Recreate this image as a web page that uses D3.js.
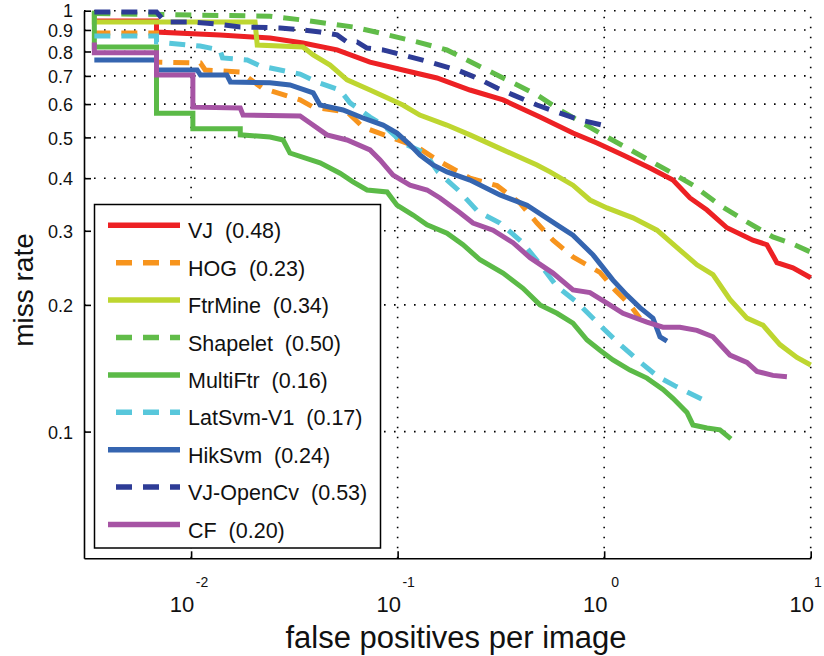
<!DOCTYPE html>
<html>
<head>
<meta charset="utf-8">
<script src="https://cdn.jsdelivr.net/npm/d3@7"></script>
<style>
  html, body { margin: 0; padding: 0; background: #fff; }
  svg { display: block; font-family: "Liberation Sans", Arial, Helvetica, sans-serif; }
</style>
</head>
<body>
<svg id="chart" width="824" height="656"></svg>
<script>
// Detectors, their log-average miss rates and line styles (legend order = draw order)
const methods   = ["VJ", "HOG", "FtrMine", "Shapelet", "MultiFtr", "LatSvm-V1", "HikSvm", "VJ-OpenCv", "CF"];
const avgMiss   = ["0.48", "0.23", "0.34", "0.50", "0.16", "0.17", "0.24", "0.53", "0.20"];
const colors    = ["#ED2124", "#F7941D", "#BED630", "#61BC49", "#5BBA47", "#58C7DB", "#3565B0", "#2E3C96", "#A654A4"];
const dashed    = [false, true, false, true, false, true, false, true, false];

// Axis ticks
const yTicks = [0.1, 0.2, 0.3, 0.4, 0.5, 0.6, 0.7, 0.8, 0.9, 1];
const yTickLabels = ["0.1", "0.2", "0.3", "0.4", "0.5", "0.6", "0.7", "0.8", "0.9", "1"];
const xTicks = [0.01, 0.1, 1, 10];
const xTickExponents = ["-2", "-1", "0", "1"];

// Curves: [false positives per image, miss rate]
const vj = [[0.0034,0.945],[0.0068,0.945],[0.0068,0.89],[0.0138,0.876],[0.0241,0.861],[0.0348,0.838],[0.0509,0.807],
  [0.0735,0.755],[0.106,0.723],[0.155,0.692],[0.224,0.648],[0.324,0.614],[0.489,0.559],[0.706,0.512],[0.923,0.485],
  [1.233,0.454],[1.666,0.423],[2.153,0.396],[2.603,0.359],[3.146,0.336],[3.93,0.305],[5.251,0.285],[6.138,0.278],
  [6.861,0.252],[8.2,0.245],[10,0.232]];
const hog = [[0.0034,0.885],[0.0068,0.885],[0.0068,0.755],[0.0111,0.751],[0.0117,0.723],[0.0173,0.715],[0.0221,0.655],
  [0.0337,0.614],[0.039,0.59],[0.0569,0.575],[0.068,0.529],[0.1241,0.475],[0.1551,0.442],[0.2241,0.4],[0.3028,0.384],
  [0.3913,0.349],[0.4729,0.313],[0.5652,0.285],[0.7063,0.26],[0.9544,0.239],[1.128,0.217],[1.333,0.2],[1.49,0.186]];
const ftrMine = [[0.0034,1.0],[0.0034,0.94],[0.0204,0.94],[0.0209,0.829],[0.0348,0.82],[0.039,0.785],[0.0471,0.743],
  [0.0569,0.685],[0.0735,0.648],[0.106,0.597],[0.128,0.565],[0.173,0.535],[0.224,0.507],[0.324,0.467],[0.473,0.43],
  [0.547,0.414],[0.706,0.385],[0.854,0.355],[1.032,0.34],[1.379,0.322],[1.802,0.301],[2.328,0.27],[2.814,0.249],
  [3.363,0.236],[4.064,0.206],[4.912,0.186],[5.87,0.179],[7.094,0.161],[8.575,0.15],[10,0.144]];
const shapelet = [[0.0034,0.985],[0.0241,0.97],[0.0348,0.95],[0.0608,0.915],[0.0822,0.885],[0.124,0.843],[0.173,0.807],
  [0.242,0.743],[0.324,0.692],[0.473,0.631],[0.611,0.581],[0.987,0.507],[1.289,0.472],[2.014,0.418],[2.691,0.385],
  [3.635,0.345],[4.912,0.315],[6.561,0.29],[7.93,0.281],[10,0.267]];
const multiFtr = [[0.0034,1.0],[0.0034,0.82],[0.0068,0.82],[0.0068,0.571],[0.0102,0.571],[0.0102,0.524],[0.0173,0.524],
  [0.0173,0.507],[0.0241,0.501],[0.0279,0.493],[0.0301,0.459],[0.0421,0.435],[0.0526,0.411],[0.0608,0.392],[0.0711,0.375],
  [0.0889,0.371],[0.0993,0.345],[0.1187,0.327],[0.1388,0.31],[0.1734,0.296],[0.2073,0.278],[0.2505,0.256],[0.3237,0.238],
  [0.4046,0.219],[0.489,0.2],[0.591,0.191],[0.706,0.181],[0.826,0.165],[0.954,0.156],[1.103,0.148],[1.333,0.14],
  [1.611,0.134],[1.926,0.126],[2.153,0.12],[2.517,0.111],[2.691,0.1037],[3.146,0.102],[3.635,0.101],[4.109,0.0961]];
const latSvm = [[0.0034,0.871],[0.0068,0.871],[0.0068,0.843],[0.01105,0.824],[0.0138,0.807],[0.0142,0.772],[0.0187,0.764],
  [0.0216,0.739],[0.027,0.723],[0.0337,0.707],[0.0407,0.677],[0.0526,0.648],[0.0588,0.604],[0.0735,0.559],[0.085,0.535],
  [0.106,0.485],[0.1357,0.459],[0.1568,0.414],[0.1961,0.375],[0.2451,0.333],[0.313,0.313],[0.4,0.282],[0.489,0.25],
  [0.591,0.221],[0.7385,0.203],[0.976,0.177],[1.193,0.161],[1.49,0.1464],[1.822,0.135],[2.202,0.1284],[3.008,0.119]];
const hikSvm = [[0.0034,0.764],[0.0068,0.764],[0.0068,0.723],[0.0107,0.723],[0.0111,0.703],[0.0149,0.703],[0.0155,0.677],
  [0.0241,0.674],[0.0301,0.666],[0.039,0.638],[0.0421,0.597],[0.0544,0.581],[0.068,0.556],[0.085,0.535],[0.0993,0.512],
  [0.1148,0.48],[0.1283,0.454],[0.1484,0.43],[0.1734,0.414],[0.2241,0.396],[0.313,0.365],[0.423,0.345],[0.591,0.31],
  [0.706,0.293],[0.883,0.263],[1.103,0.229],[1.289,0.211],[1.49,0.197],[1.723,0.186],[1.863,0.168],[2.014,0.164]];
const vjOpenCv = [[0.0034,0.993],[0.0068,0.993],[0.00748,0.94],[0.0102,0.94],[0.01307,0.93],[0.0173,0.915],[0.027,0.91],
  [0.0348,0.9],[0.0421,0.89],[0.0509,0.876],[0.0569,0.843],[0.0636,0.843],[0.0711,0.815],[0.085,0.807],[0.106,0.785],
  [0.1435,0.755],[0.1939,0.723],[0.2423,0.692],[0.3028,0.655],[0.3619,0.631],[0.4729,0.597],[0.611,0.571],[0.7636,0.55],
  [0.976,0.535]];
const cf = [[0.0034,0.84],[0.0034,0.794],[0.0068,0.794],[0.0068,0.703],[0.0102,0.703],[0.0102,0.59],[0.0173,0.587],
  [0.01785,0.565],[0.0337,0.562],[0.0377,0.541],[0.0455,0.507],[0.0569,0.493],[0.0735,0.467],[0.0822,0.442],[0.095,0.407],
  [0.1148,0.385],[0.1388,0.375],[0.1604,0.359],[0.2004,0.331],[0.2317,0.313],[0.2896,0.301],[0.3619,0.281],[0.4376,0.259],
  [0.5652,0.238],[0.7063,0.217],[0.8536,0.214],[1.032,0.202],[1.233,0.191],[1.611,0.182],[1.926,0.177],[2.328,0.177],
  [2.814,0.174],[3.363,0.168],[4.064,0.152],[4.912,0.146],[5.491,0.139],[6.561,0.136],[7.67,0.135]];

const curves = [vj, hog, ftrMine, shapelet, multiFtr, latSvm, hikSvm, vjOpenCv, cf];

const svg = d3.select("#chart");
const plot = { left: 84, right: 810.7, top: 10.7, bottom: 558.3 };

const x = d3.scaleLog().domain([0.00303, 10]).range([plot.left, plot.right]);
const y = d3.scaleLog().domain([0.05, 1]).range([plot.bottom, plot.top]);

svg.append("defs").append("clipPath").attr("id", "plotClip")
  .append("rect")
  .attr("x", plot.left).attr("y", plot.top - 4)
  .attr("width", plot.right - plot.left + 4).attr("height", plot.bottom - plot.top + 4);

// Dotted grid
const grid = svg.append("g").attr("stroke", "#000").attr("stroke-width", 1.6)
  .attr("stroke-dasharray", "1.6 8.4").attr("fill", "none");
grid.selectAll("line.h").data(yTicks).join("line").attr("class", "h")
  .attr("x1", plot.left).attr("x2", plot.right)
  .attr("y1", d => y(d)).attr("y2", d => y(d));
grid.selectAll("line.v").data(xTicks).join("line").attr("class", "v")
  .attr("x1", d => x(d)).attr("x2", d => x(d))
  .attr("y1", plot.bottom).attr("y2", plot.top);

// Curves
const line = d3.line().x(d => x(d[0])).y(d => y(d[1]));
const curveLayer = svg.append("g").attr("clip-path", "url(#plotClip)");
curves.forEach((c, i) => {
  curveLayer.append("path")
    .datum(c)
    .attr("d", line)
    .attr("fill", "none")
    .attr("stroke", colors[i])
    .attr("stroke-width", 5)
    .attr("stroke-linejoin", "miter")
    .attr("stroke-linecap", "butt")
    .attr("stroke-dasharray", dashed[i] ? "16 11" : null);
});

// Axes
const yAxis = d3.axisLeft(y).tickValues(yTicks)
  .tickFormat((d, i) => yTickLabels[i]).tickSizeInner(-7).tickSizeOuter(0).tickPadding(11);
const gy = svg.append("g").attr("transform", `translate(${plot.left},0)`).call(yAxis);
gy.selectAll(".tick text")
  .attr("font-size", 18).attr("fill", "#111")
  .attr("font-family", "'Liberation Sans', Arial, sans-serif")
  .attr("y", d => d === 1 ? 0 : 1);

const xAxis = d3.axisBottom(x).tickValues(xTicks).tickFormat("").tickSizeInner(-7).tickSizeOuter(0);
const gx = svg.append("g").attr("transform", `translate(0,${plot.bottom})`).call(xAxis);

[gy, gx].forEach(g => {
  g.select(".domain").attr("stroke", "#000").attr("stroke-width", 1.6);
  g.selectAll(".tick line").attr("stroke", "#000").attr("stroke-width", 1.6);
});

// Power-of-ten tick labels (exponent kept inside the canvas at the right edge)
const xl = svg.append("g").attr("fill", "#111");
xl.selectAll("text.base").data(xTicks).join("text").attr("class", "base")
  .attr("x", d => x(d) - 9).attr("y", 612)
  .attr("text-anchor", "middle").attr("font-size", 22).text("10");
xl.selectAll("text.exp").data(xTicks).join("text").attr("class", "exp")
  .attr("x", d => Math.min(x(d) + 11, 818)).attr("y", 587)
  .attr("text-anchor", "middle").attr("font-size", 14)
  .text((d, i) => xTickExponents[i]);

// Axis titles
svg.append("text").attr("x", 456).attr("y", 648).attr("text-anchor", "middle")
  .attr("font-size", 31).attr("fill", "#111").text("false positives per image");
svg.append("text").attr("transform", "translate(33,290) rotate(-90)").attr("text-anchor", "middle")
  .attr("font-size", 28).attr("fill", "#111").text("miss rate");

// Legend
const legend = svg.append("g");
legend.append("rect").attr("x", 94.5).attr("y", 204.5).attr("width", 286).attr("height", 343.5)
  .attr("fill", "#fff").attr("stroke", "#000").attr("stroke-width", 1.5);
methods.forEach((m, i) => {
  const yy = 225.3 + i * 37.4;
  legend.append("line")
    .attr("x1", 108).attr("x2", 180).attr("y1", yy).attr("y2", yy)
    .attr("stroke", colors[i]).attr("stroke-width", 5.5)
    .attr("stroke-dasharray", dashed[i] ? "16 11" : null)
    .attr("stroke-dashoffset", dashed[i] ? 19 : null);
  legend.append("text").attr("x", 188).attr("y", yy + 13)
    .attr("font-size", 21.5).attr("fill", "#111")
    .attr("xml:space", "preserve")
    .text(`${m}  (${avgMiss[i]})`);
});
</script>
</body>
</html>
